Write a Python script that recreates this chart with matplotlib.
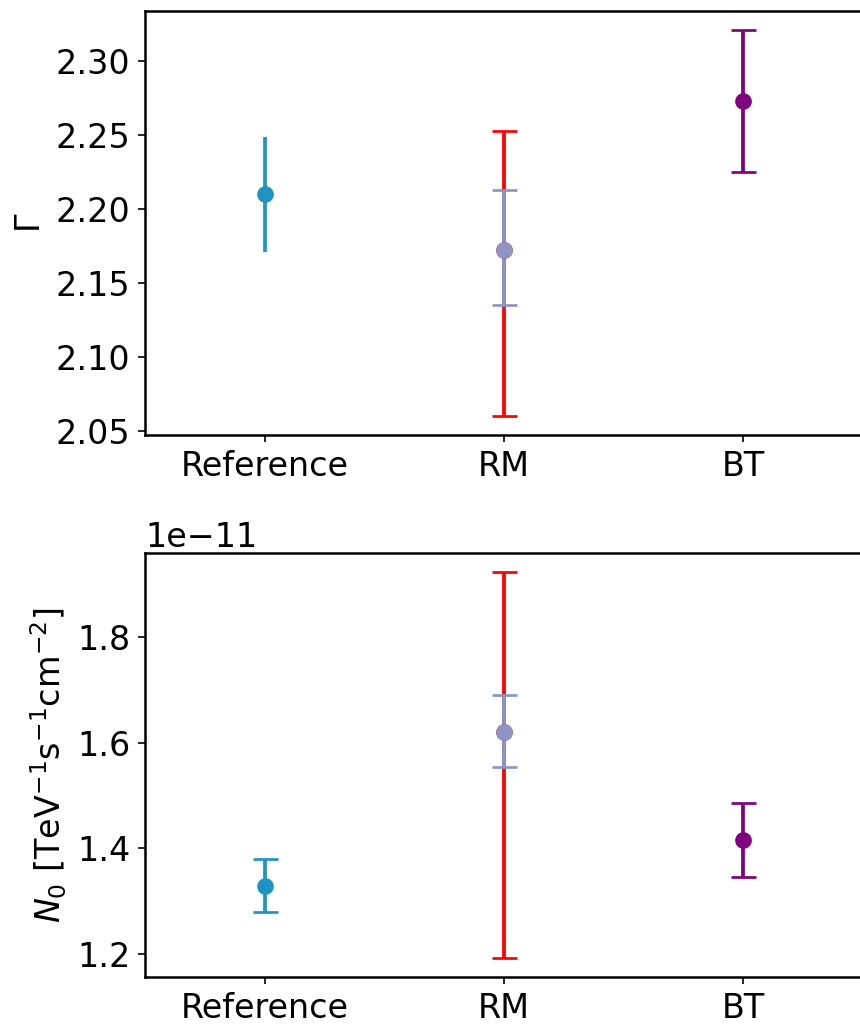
import matplotlib
matplotlib.use("Agg")
import matplotlib.pyplot as plt
import numpy as np

# методы и значения
labels = ["Reference", "RM", "BT"]
colors = ["#1f93c2", "purple"]

# индекс Gamma
gamma_ref = 2.210
gamma_ref_err = 0.039
gamma_rm = 2.172
gamma_rm_err_stat = [0.037, 0.041]
gamma_rm_err_tot = [0.112, 0.081]
gamma_bt = 2.273
gamma_bt_err = 0.048

# нормировка N0 (в единицах 1e-11)
n0_ref = 1.329
n0_ref_err = 0.050
n0_rm = 1.621
n0_rm_err_stat = [0.068, 0.070]
n0_rm_err_tot = [0.429, 0.302]
n0_bt = 1.416
n0_bt_err = 0.070

plt.rcParams['font.size'] = 16
plt.rcParams['axes.linewidth'] = 1.2

fig = plt.figure(figsize=(8.61 / 1.5, 10.25 / 1.5), dpi=150)
ax1 = fig.add_axes([0.1684, 0.5756, 0.842, 0.4137])
ax2 = fig.add_axes([0.1684, 0.0468, 0.842, 0.4137])

x = np.arange(len(labels))


def draw(ax, ref, ref_err, rm, rm_stat, rm_tot, bt, bt_err, ref_caps, scale=1.0):
    kw = dict(fmt='o', markersize=7, elinewidth=1.8, capthick=1.3)
    ax.errorbar(x[0], ref * scale, yerr=ref_err * scale, color=colors[0],
                capsize=6 if ref_caps else 0, **kw)
    ax.errorbar(x[1], rm * scale, yerr=np.array(rm_tot).reshape(2, 1) * scale,
                color='red', capsize=6, **kw)
    ax.errorbar(x[1], rm * scale, yerr=np.array(rm_stat).reshape(2, 1) * scale,
                color='#8c96c6', capsize=6, **kw)
    ax.errorbar(x[2], bt * scale, yerr=bt_err * scale, color=colors[1],
                capsize=6, **kw)
    ax.set_xticks(x)
    ax.set_xticklabels(labels)
    ax.set_xlim(-0.5, 2.53)
    # правая рамка в оригинале обрезана краем картинки
    ax.spines['right'].set_visible(False)


draw(ax1, gamma_ref, gamma_ref_err, gamma_rm, gamma_rm_err_stat, gamma_rm_err_tot,
     gamma_bt, gamma_bt_err, ref_caps=False)
ax1.set_ylabel(r'$\Gamma$')

draw(ax2, n0_ref, n0_ref_err, n0_rm, n0_rm_err_stat, n0_rm_err_tot,
     n0_bt, n0_bt_err, ref_caps=True, scale=1e-11)
ax2.set_ylabel(r'$N_0$ [TeV$^{-1}$s$^{-1}$cm$^{-2}$]')
ax2.set_yticks([1.2e-11, 1.4e-11, 1.6e-11, 1.8e-11])

fig.savefig("out.png", dpi=150)
